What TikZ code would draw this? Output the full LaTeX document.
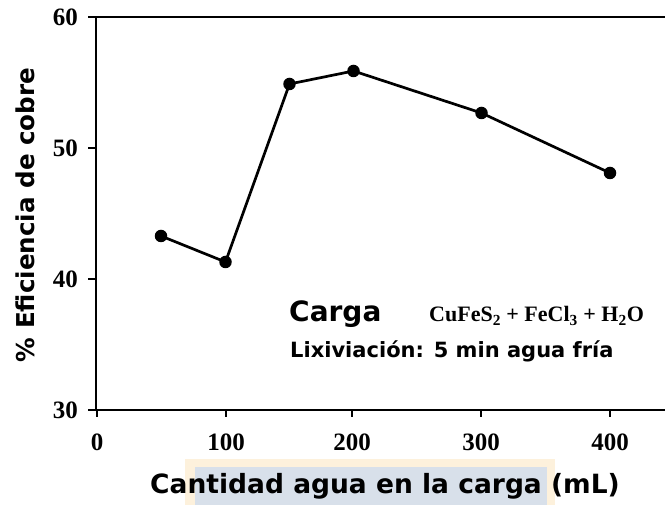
\documentclass[tikz,border=0pt]{standalone}
\usepackage{fontspec}
\newfontfamily\verd{DejaVu Sans}
\newfontfamily\tms{Liberation Serif}
\definecolor{bgblue}{HTML}{D8E0EA}
\definecolor{bgorange}{HTML}{FDF1DC}
\newcommand{\plsp}{\hspace{0.25em}}
\tikzset{
  axisline/.style={line width=2.6pt, line cap=rect},
  tickline/.style={line width=1.6pt},
  dataline/.style={line width=2.7pt, line join=round},
  dot/.style={circle, fill=black, inner sep=0pt, minimum size=12.5pt},
  ticklab/.style={font=\tms\bfseries\fontsize{25}{25}\selectfont, inner sep=0pt},
  axislab/.style={font=\verd\bfseries\fontsize{24.6}{26}\selectfont, inner sep=0pt},
}
\begin{document}
\begin{tikzpicture}[x=1pt,y=1pt]
\useasboundingbox (0,0) rectangle (665,505);
\fill[white] (0,0) rectangle (665,505);
% background behind x label
\fill[bgorange] (185,0) rectangle (555,46);
\fill[bgblue] (195,0) rectangle (547,38);
% axes
\coordinate (o) at (96,95);
\coordinate (ytop) at (96,488);
\coordinate (tr) at (665,488);
\coordinate (br) at (665,95);
\draw[axisline] (ytop) -- (o);
\draw[axisline] (89,488) -- (tr);
\draw[axisline] (89,95) -- (br);
% y ticks
\foreach \yy in {357,226} \draw[tickline] (88,\yy) -- (96,\yy);
% x ticks
\foreach \xx in {97,226,352,481,610} \draw[tickline] (\xx,95) -- (\xx,88);
% y tick labels
\node[ticklab, anchor=east] (y60) at (78,488) {60};
\node[ticklab, anchor=east] (y50) at (78,357) {50};
\node[ticklab, anchor=east] (y40) at (78,226) {40};
\node[ticklab, anchor=east] (y30) at (78,95) {30};
% x tick labels
\node[ticklab] (x0) at (97,63) {0};
\node[ticklab] (x100) at (226,63) {100};
\node[ticklab] (x200) at (352,63) {200};
\node[ticklab] (x300) at (481,63) {300};
\node[ticklab] (x400) at (610,63) {400};
% axis labels
\node[axislab, rotate=90, anchor=base] (ylab) at (35,290) {\% Eficiencia de cobre};
\node[axislab, font=\verd\bfseries\fontsize{26.5}{28}\selectfont, anchor=base] (xlab) at (385,11) {Cantidad agua en la carga (mL)};
% data
\node[dot] (p1) at (161,269) {};
\node[dot] (p2) at (225.5,243) {};
\node[dot] (p3) at (289.5,421) {};
\node[dot] (p4) at (353.5,434) {};
\node[dot] (p5) at (481.5,392) {};
\node[dot] (p6) at (610,332) {};
\draw[dataline] (p1.center) -- (p2.center) -- (p3.center) -- (p4.center) -- (p5.center) -- (p6.center);
% legend text
\node[font=\verd\bfseries\fontsize{28}{30}\selectfont, anchor=base west, inner sep=0pt] (carga) at (289,183) {Carga};
\node[font=\tms\bfseries\fontsize{22}{24}\selectfont, anchor=base west, inner sep=0pt] (formula) at (429,183) {CuFeS\textsubscript{2}\plsp+\plsp FeCl\textsubscript{3}\plsp+\plsp H\textsubscript{2}O};
\node[font=\verd\bfseries\fontsize{21}{23}\selectfont, anchor=base west, inner sep=0pt] (lix) at (290,147) {Lixiviación: 5 min agua fría};
\end{tikzpicture}
\end{document}
